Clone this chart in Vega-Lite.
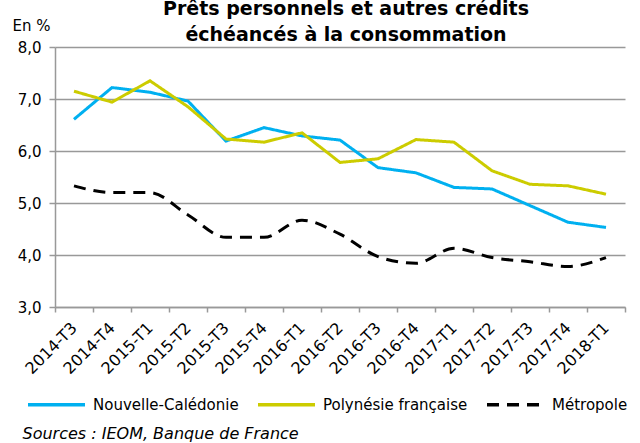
{
  "$schema": "https://vega.github.io/schema/vega-lite/v6.json",
  "width": 570,
  "height": 260,
  "autosize": {"type": "none"},
  "padding": {"left": 55, "top": 47, "right": 15, "bottom": 136},
  "background": "white",
  "config": {
    "font": "DejaVu Sans",
    "view": {"stroke": null},
    "axis": {"labelFont": "DejaVu Sans", "titleFont": "DejaVu Sans", "labelColor": "#000000", "titleColor": "#000000"}
  },
  "title": {
    "text": ["Prêts personnels et autres crédits", "échéancés à la consommation"],
    "font": "DejaVu Sans",
    "fontSize": 19,
    "fontWeight": "bold",
    "color": "#000000",
    "anchor": "middle",
    "dx": 6,
    "dy": 32,
    "offset": 5,
    "lineHeight": 26
  },
  "data": {
    "values": [
      {"t": "2014-T3", "s": "Nouvelle-Calédonie", "v": 6.61},
      {"t": "2014-T4", "s": "Nouvelle-Calédonie", "v": 7.22},
      {"t": "2015-T1", "s": "Nouvelle-Calédonie", "v": 7.13},
      {"t": "2015-T2", "s": "Nouvelle-Calédonie", "v": 6.96},
      {"t": "2015-T3", "s": "Nouvelle-Calédonie", "v": 6.19},
      {"t": "2015-T4", "s": "Nouvelle-Calédonie", "v": 6.45},
      {"t": "2016-T1", "s": "Nouvelle-Calédonie", "v": 6.29},
      {"t": "2016-T2", "s": "Nouvelle-Calédonie", "v": 6.21},
      {"t": "2016-T3", "s": "Nouvelle-Calédonie", "v": 5.68},
      {"t": "2016-T4", "s": "Nouvelle-Calédonie", "v": 5.58},
      {"t": "2017-T1", "s": "Nouvelle-Calédonie", "v": 5.30},
      {"t": "2017-T2", "s": "Nouvelle-Calédonie", "v": 5.27},
      {"t": "2017-T3", "s": "Nouvelle-Calédonie", "v": 4.95},
      {"t": "2017-T4", "s": "Nouvelle-Calédonie", "v": 4.63},
      {"t": "2018-T1", "s": "Nouvelle-Calédonie", "v": 4.53},
      {"t": "2014-T3", "s": "Polynésie française", "v": 7.15},
      {"t": "2014-T4", "s": "Polynésie française", "v": 6.94},
      {"t": "2015-T1", "s": "Polynésie française", "v": 7.35},
      {"t": "2015-T2", "s": "Polynésie française", "v": 6.85},
      {"t": "2015-T3", "s": "Polynésie française", "v": 6.23},
      {"t": "2015-T4", "s": "Polynésie française", "v": 6.17},
      {"t": "2016-T1", "s": "Polynésie française", "v": 6.35},
      {"t": "2016-T2", "s": "Polynésie française", "v": 5.78},
      {"t": "2016-T3", "s": "Polynésie française", "v": 5.85},
      {"t": "2016-T4", "s": "Polynésie française", "v": 6.22},
      {"t": "2017-T1", "s": "Polynésie française", "v": 6.17},
      {"t": "2017-T2", "s": "Polynésie française", "v": 5.62},
      {"t": "2017-T3", "s": "Polynésie française", "v": 5.36},
      {"t": "2017-T4", "s": "Polynésie française", "v": 5.33},
      {"t": "2018-T1", "s": "Polynésie française", "v": 5.17},
      {"t": "2014-T3", "s": "Métropole", "v": 5.33},
      {"t": "2014-T4", "s": "Métropole", "v": 5.20},
      {"t": "2015-T1", "s": "Métropole", "v": 5.20},
      {"t": "2015-T2", "s": "Métropole", "v": 4.77},
      {"t": "2015-T3", "s": "Métropole", "v": 4.34},
      {"t": "2015-T4", "s": "Métropole", "v": 4.34},
      {"t": "2016-T1", "s": "Métropole", "v": 4.67},
      {"t": "2016-T2", "s": "Métropole", "v": 4.40},
      {"t": "2016-T3", "s": "Métropole", "v": 3.97},
      {"t": "2016-T4", "s": "Métropole", "v": 3.84},
      {"t": "2017-T1", "s": "Métropole", "v": 4.13},
      {"t": "2017-T2", "s": "Métropole", "v": 3.95},
      {"t": "2017-T3", "s": "Métropole", "v": 3.87},
      {"t": "2017-T4", "s": "Métropole", "v": 3.78},
      {"t": "2018-T1", "s": "Métropole", "v": 3.95}
    ]
  },
  "encoding": {
    "x": {
      "field": "t",
      "type": "ordinal",
      "bandPosition": 0.5,
      "scale": {"type": "band", "paddingInner": 0, "paddingOuter": 0},
      "axis": {
        "title": "Sources : IEOM, Banque de France",
        "titleX": -33,
        "titleY": 126,
        "titleAlign": "left",
        "titleBaseline": "middle",
        "titleAnchor": null,
        "titleFontStyle": "italic",
        "titleFontWeight": "normal",
        "titleFontSize": 16,
        "labelAngle": -45,
        "labelAlign": "right",
        "labelBaseline": "middle",
        "labelFontSize": 16,
        "labelPadding": 13,
        "tickBand": "extent",
        "tickColor": "#999999",
        "tickSize": 5,
        "tickWidth": 1.5,
        "domainColor": "#999999",
        "domainWidth": 1.5,
        "grid": false
      }
    },
    "y": {
      "field": "v",
      "type": "quantitative",
      "scale": {"domain": [3, 8], "nice": false, "zero": false},
      "axis": {
        "values": [3, 4, 5, 6, 7, 8],
        "labelExpr": "replace(format(datum.value, '.1f'), '.', ',')",
        "labelFontSize": 15,
        "labelPadding": 8,
        "title": "En %",
        "titleAngle": 0,
        "titleX": -43,
        "titleY": -22,
        "titleAlign": "left",
        "titleBaseline": "middle",
        "titleFontWeight": "normal",
        "titleFontSize": 15,
        "grid": true,
        "gridColor": "#999999",
        "gridWidth": 1.5,
        "tickColor": "#999999",
        "tickSize": 6,
        "tickWidth": 1.5,
        "domainColor": "#999999",
        "domainWidth": 1.5
      }
    },
    "color": {
      "field": "s",
      "type": "nominal",
      "scale": {
        "domain": ["Nouvelle-Calédonie", "Polynésie française", "Métropole"],
        "range": ["#00B0F0", "#CCCC00", "#000000"]
      },
      "legend": {
        "title": null,
        "orient": "none",
        "direction": "horizontal",
        "legendX": -29,
        "legendY": 327,
        "padding": 0,
        "symbolType": "stroke",
        "symbolSize": 3249,
        "symbolStrokeWidth": 3.5,
        "labelFontSize": 15,
        "labelFont": "DejaVu Sans",
        "labelColor": "#000000",
        "labelOffset": 6,
        "columnPadding": 12,
        "labelLimit": 300
      }
    },
    "strokeDash": {
      "field": "s",
      "type": "nominal",
      "scale": {
        "domain": ["Nouvelle-Calédonie", "Polynésie française", "Métropole"],
        "range": [[1, 0], [1, 0], [12, 8]]
      },
      "legend": {
        "title": null,
        "orient": "none",
        "direction": "horizontal",
        "legendX": -29,
        "legendY": 327,
        "padding": 0,
        "symbolType": "stroke",
        "symbolSize": 3249,
        "symbolStrokeWidth": 3.5,
        "labelFontSize": 15,
        "labelFont": "DejaVu Sans",
        "labelColor": "#000000",
        "labelOffset": 6,
        "columnPadding": 12,
        "labelLimit": 300
      }
    }
  },
  "layer": [
    {
      "transform": [{"filter": "datum.s === 'Métropole'"}],
      "mark": {"type": "line", "strokeWidth": 3, "interpolate": "monotone"}
    },
    {
      "transform": [{"filter": "datum.s !== 'Métropole'"}],
      "mark": {"type": "line", "strokeWidth": 3}
    }
  ]
}
